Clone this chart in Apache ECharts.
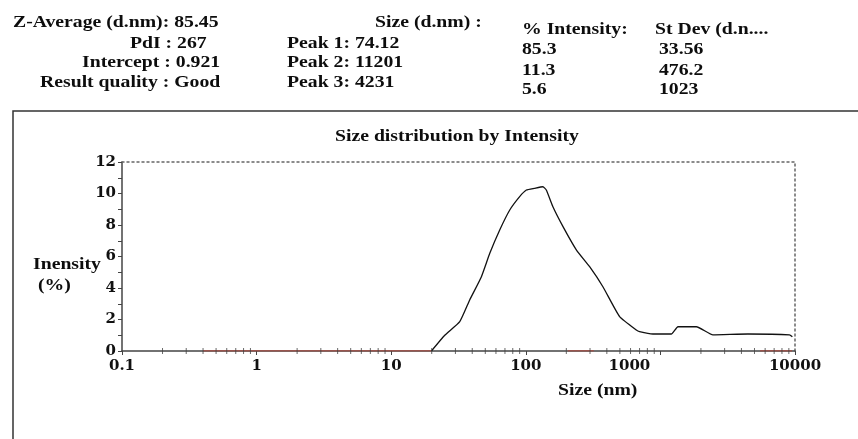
<!DOCTYPE html>
<html>
<head>
<meta charset="utf-8">
<script src="https://cdn.jsdelivr.net/npm/echarts@6/dist/echarts.min.js"></script>
<style>
  html, body { margin: 0; padding: 0; background: #fff; }
  #main { width: 858px; height: 439px; }
</style>
</head>
<body>
<div id="main"></div>
<script>
// size (nm) and intensity (%)
var sizeNm = [19.9, 25, 32.3, 38.3, 46.8, 54, 64, 76, 90, 101, 116, 134, 142, 159, 189, 238, 298, 374, 498, 662, 700, 879, 1205, 1351, 1850, 2457, 4470, 9100, 9560];
var intensity = [0, 1.0, 1.86, 3.24, 4.72, 6.2, 7.68, 8.95, 9.8, 10.22, 10.33, 10.43, 10.22, 9.16, 7.9, 6.41, 5.35, 4.08, 2.18, 1.33, 1.23, 1.08, 1.08, 1.54, 1.54, 1.02, 1.08, 1.02, 0.9];

// red baseline pieces along the x axis
var baseline = [[0.4, 0], [19.9, 0], [19.9, '-'], [205, 0], [320, 0], [320, '-'], [5500, 0], [9500, 0]];

var xTickLabels = ['0.1', '1', '10', '100', '1000', '10000'];
var yTicks = [0, 2, 4, 6, 8, 10, 12];

// header table
var col1 = ['Z-Average (d.nm): 85.45', 'PdI : 267', 'Intercept : 0.921', 'Result quality : Good'];
var col2 = ['Size (d.nm) :', 'Peak 1: 74.12', 'Peak 2: 11201', 'Peak 3: 4231'];
var col3 = ['% Intensity:', '85.3', '11.3', '5.6'];
var col4 = ['St Dev (d.n....', '33.56', '476.2', '1023'];

var serif = '"Liberation Serif", "Times New Roman", serif';
var labelFont = '"DejaVu Serif", serif';

// log minor ticks (2..9 in each decade)
var minorTicks = [];
for (var d = -1; d < 4; d++) {
  for (var k = 2; k <= 9; k++) minorTicks.push([k * Math.pow(10, d), 0]);
}

function txt(s, x, y) {
  return {
    type: 'text', x: x, y: y, scaleX: 1.16, silent: true,
    style: { text: s, font: 'bold 17px ' + serif, fill: '#0d0d0d', textAlign: 'left', textVerticalAlign: 'middle' }
  };
}

var graphics = [
  { type: 'polyline', silent: true, shape: { points: [[13, 439], [13, 111], [858, 111]] },
    style: { stroke: '#333', lineWidth: 1.5, fill: null } },
  txt(col1[0], 13, 23), txt(col1[1], 130, 44), txt(col1[2], 82, 63), txt(col1[3], 40, 83),
  txt(col2[0], 375, 23), txt(col2[1], 287, 44), txt(col2[2], 287, 63), txt(col2[3], 287, 83),
  txt(col3[0], 522, 30), txt(col3[1], 522, 50), txt(col3[2], 522, 71), txt(col3[3], 522, 90),
  txt(col4[0], 655, 30), txt(col4[1], 659, 50), txt(col4[2], 659, 71), txt(col4[3], 659, 90),
  txt('Size distribution by Intensity', 335, 137),
  txt('Inensity', 33, 265), txt('(%)', 38, 286),
  txt('Size (nm)', 558, 391)
];

var myChart = echarts.init(document.getElementById('main'));
var option = {
  animation: false,
  backgroundColor: '#fff',
  grid: { left: 122, right: 63, top: 162, bottom: 88 },
  xAxis: [
    {
      type: 'log', logBase: 10, min: 0.1, max: 10000,
      axisLine: { lineStyle: { color: '#444', width: 1.5 } },
      axisTick: { length: 4, lineStyle: { color: '#444' } },
      splitLine: { show: false },
      axisLabel: {
        margin: 8, color: '#111', fontFamily: labelFont, fontWeight: 'bold', fontSize: 15,
        formatter: function (v) {
          var s = xTickLabels[Math.round(Math.log10(v)) + 1];
          return s === '1000' ? '{a|' + s + '}' : s;
        },
        rich: { a: { padding: [0, 62, 0, 0], color: '#111', fontFamily: labelFont, fontWeight: 'bold', fontSize: 15 } }
      }
    },
    {
      // top frame line
      type: 'value', min: 0, max: 1, position: 'top',
      axisLine: { show: true, onZero: false, lineStyle: { color: '#666', width: 1.5, type: [2, 3] } },
      axisTick: { show: false }, axisLabel: { show: false }, splitLine: { show: false }
    }
  ],
  yAxis: [
    {
      type: 'value', min: yTicks[0], max: yTicks[yTicks.length - 1], interval: 2,
      axisLine: { show: true, lineStyle: { color: '#444', width: 1.5 } },
      axisTick: { show: true, length: 4, lineStyle: { color: '#444' } },
      minorTick: { show: true, splitNumber: 2, length: 4, lineStyle: { color: '#444' } },
      splitLine: { show: false },
      axisLabel: { margin: 6, color: '#111', fontFamily: labelFont, fontWeight: 'bold', fontSize: 15 }
    },
    {
      type: 'value', min: 0, max: 12, position: 'right',
      axisLine: { show: true, onZero: false, lineStyle: { color: '#666', width: 1.5, type: [2, 3] } },
      axisTick: { show: false }, axisLabel: { show: false }, splitLine: { show: false }
    }
  ],
  series: [
    {
      type: 'line', data: baseline, symbol: 'none', silent: true,
      lineStyle: { color: '#c0392b', width: 1.2 }, z: 3
    },
    {
      type: 'line', data: sizeNm.map(function (s, i) { return [s, intensity[i]]; }),
      symbol: 'none', silent: true, smooth: 0.15,
      lineStyle: { color: '#111', width: 1.3 }, z: 4
    },
    {
      type: 'scatter', data: minorTicks, symbol: 'rect', symbolSize: [1, 6],
      itemStyle: { color: '#444' }, silent: true, clip: false, z: 5
    }
  ],
  graphic: graphics
};
myChart.setOption(option);
</script>
</body>
</html>
